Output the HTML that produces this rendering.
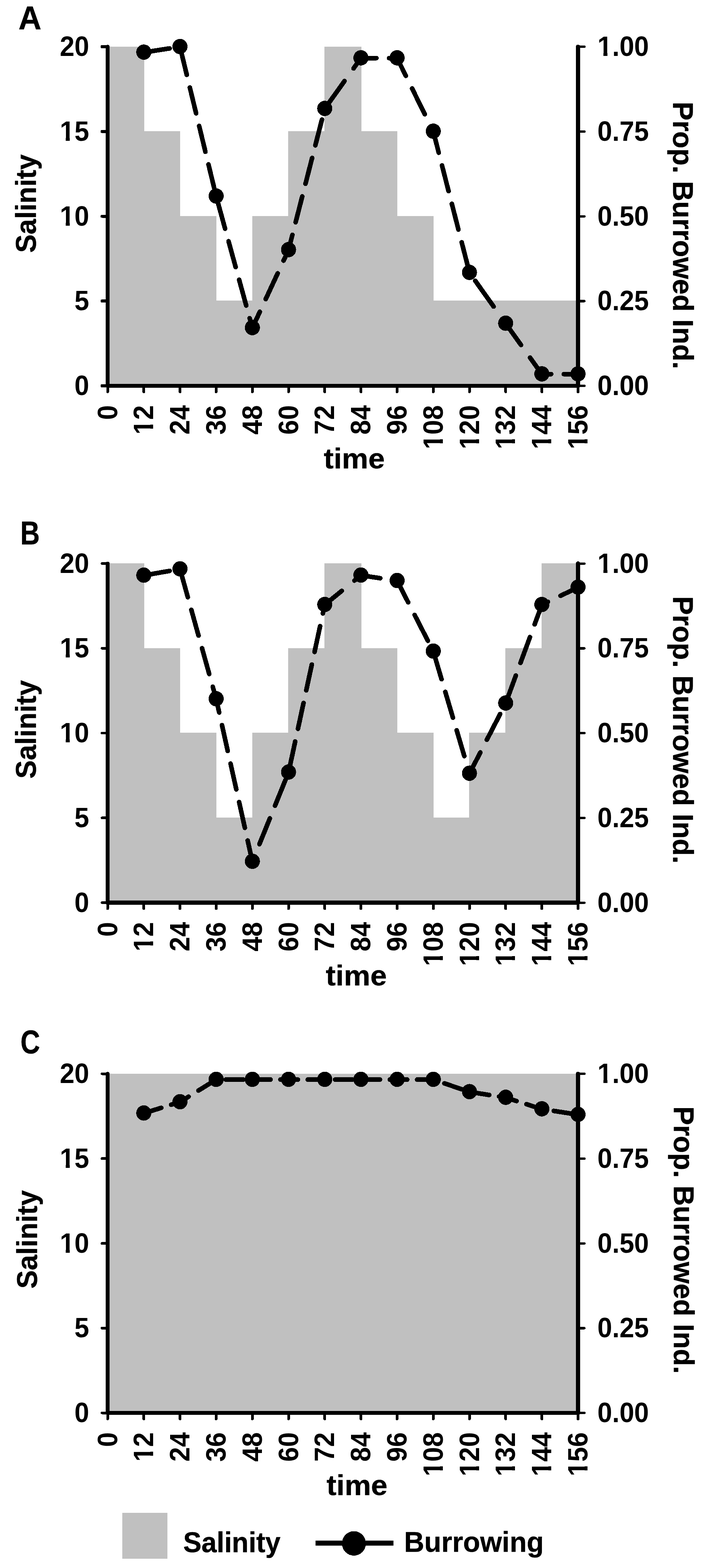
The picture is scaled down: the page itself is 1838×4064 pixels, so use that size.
<!DOCTYPE html>
<html lang="en"><head><meta charset="utf-8"><title>Salinity and burrowing</title>
<style>
html,body{margin:0;padding:0;background:#fff;}
body{width:1838px;height:4064px;overflow:hidden;}
svg{display:block;shape-rendering:crispEdges;}
text{font-family:"Liberation Sans",sans-serif;font-weight:bold;fill:#000;}
.tk{font-size:68.5px;}
.ti{stroke:#000;stroke-width:0.6px;stroke-linejoin:round;}
.ax{stroke:#000;stroke-linecap:round;fill:none;}
.ln{stroke:#000;stroke-width:12;stroke-linecap:round;stroke-linejoin:round;fill:none;}
</style></head><body>
<svg width="1838" height="4064" viewBox="0 0 1838 4064">
<defs><clipPath id="k1" clipPathUnits="userSpaceOnUse"><path clip-rule="evenodd" d="M-200 -70H200V20H-200ZM-78.19 -8.2H-60.69V2H-78.19ZM-50.29 -8.2H-38.59V2H-50.29Z"/></clipPath><clipPath id="k2" clipPathUnits="userSpaceOnUse"><path clip-rule="evenodd" d="M-200 -70H200V20H-200ZM-2 -8.2H15.5V2H-2ZM25.9 -8.2H37.6V2H25.9Z"/></clipPath><clipPath id="k3" clipPathUnits="userSpaceOnUse"><path clip-rule="evenodd" d="M-200 -70H200V20H-200ZM-116.29 -8.2H-98.79V2H-116.29ZM-88.39 -8.2H-76.69V2H-88.39Z"/></clipPath></defs>
<rect x="0" y="0" width="1838" height="4064" fill="#fff"/>
<g>
<path d="M279 1000L279 121L374 121L374 340L467 340L467 560L561 560L561 779L654 779L654 560L747 560L747 340L841 340L841 121L937 121L937 340L1030 340L1030 560L1124 560L1124 779L1216 779L1216 779L1310 779L1310 779L1404 779L1404 779L1498.5 779L1498.5 1000Z" fill="#c0c0c0"/>
<path class="ax" stroke-width="10" d="M279 121V1000"/>
<path class="ax" stroke-width="10" d="M279 1000H1498.5"/>
<path class="ax" stroke-width="11" d="M1498.5 121 V1000"/>
<path class="ax" stroke-width="8" d="M279 1000H264.5M279 780.25H264.5M279 560.5H264.5M279 340.75H264.5M279 121H264.5"/>
<path class="ax" stroke-width="6.2" d="M1498.5 1000.2H1514.9M1498.5 780.45H1514.9M1498.5 560.7H1514.9M1498.5 340.95H1514.9M1498.5 121.2H1514.9"/>
<path class="ax" stroke-width="7" d="M279 1000V1015.5M372.81 1000V1015.5M466.62 1000V1015.5M560.42 1000V1015.5M654.23 1000V1015.5M748.04 1000V1015.5M841.85 1000V1015.5M935.65 1000V1015.5M1029.46 1000V1015.5M1123.27 1000V1015.5M1217.08 1000V1015.5M1310.88 1000V1015.5M1404.69 1000V1015.5M1498.5 1000V1015.5"/>
<text class="tk" x="-38.1" y="0" transform="translate(231.1 1024) scale(1 1.045)">0</text>
<text class="tk" x="0" y="0" transform="translate(1548.8 1024) scale(1 1.045)">0.00</text>
<text class="tk" x="-38.1" y="0" transform="translate(231.1 804.25) scale(1 1.045)">5</text>
<text class="tk" x="0" y="0" transform="translate(1548.8 804.25) scale(1 1.045)">0.25</text>
<text class="tk" x="-76.19" y="0" clip-path="url(#k1)" transform="translate(231.1 584.5) scale(1 1.045)">10</text>
<text class="tk" x="0" y="0" transform="translate(1548.8 584.5) scale(1 1.045)">0.50</text>
<text class="tk" x="-76.19" y="0" clip-path="url(#k1)" transform="translate(231.1 364.75) scale(1 1.045)">15</text>
<text class="tk" x="0" y="0" transform="translate(1548.8 364.75) scale(1 1.045)">0.75</text>
<text class="tk" x="-76.19" y="0" transform="translate(231.1 145) scale(1 1.045)">20</text>
<text class="tk" x="0" y="0" clip-path="url(#k2)" transform="translate(1548.8 145) scale(1 1.045)">1.00</text>
<text class="tk" x="-38.1" y="0" transform="translate(303.5 1050.2) rotate(-90) scale(1 1.045)">0</text>
<text class="tk" x="-76.19" y="0" clip-path="url(#k1)" transform="translate(397.31 1050.2) rotate(-90) scale(1 1.045)">12</text>
<text class="tk" x="-76.19" y="0" transform="translate(491.12 1050.2) rotate(-90) scale(1 1.045)">24</text>
<text class="tk" x="-76.19" y="0" transform="translate(584.92 1050.2) rotate(-90) scale(1 1.045)">36</text>
<text class="tk" x="-76.19" y="0" transform="translate(678.73 1050.2) rotate(-90) scale(1 1.045)">48</text>
<text class="tk" x="-76.19" y="0" transform="translate(772.54 1050.2) rotate(-90) scale(1 1.045)">60</text>
<text class="tk" x="-76.19" y="0" transform="translate(866.35 1050.2) rotate(-90) scale(1 1.045)">72</text>
<text class="tk" x="-76.19" y="0" transform="translate(960.15 1050.2) rotate(-90) scale(1 1.045)">84</text>
<text class="tk" x="-76.19" y="0" transform="translate(1053.96 1050.2) rotate(-90) scale(1 1.045)">96</text>
<text class="tk" x="-114.29" y="0" clip-path="url(#k3)" transform="translate(1147.77 1050.2) rotate(-90) scale(1 1.045)">108</text>
<text class="tk" x="-114.29" y="0" clip-path="url(#k3)" transform="translate(1241.58 1050.2) rotate(-90) scale(1 1.045)">120</text>
<text class="tk" x="-114.29" y="0" clip-path="url(#k3)" transform="translate(1335.38 1050.2) rotate(-90) scale(1 1.045)">132</text>
<text class="tk" x="-114.29" y="0" clip-path="url(#k3)" transform="translate(1429.19 1050.2) rotate(-90) scale(1 1.045)">144</text>
<text class="tk" x="-114.29" y="0" clip-path="url(#k3)" transform="translate(1523 1050.2) rotate(-90) scale(1 1.045)">156</text>
<text class="ti" font-size="75" text-anchor="middle" transform="translate(93.2 527.7) rotate(-90) scale(0.957 1)">Salinity</text>
<text class="ti" font-size="75" text-anchor="middle" transform="translate(1745.3 610.25) rotate(90) scale(0.967 1)">Prop. Burrowed Ind.</text>
<text class="ti" font-size="74" text-anchor="middle" transform="translate(918.4 1214.3) scale(1.04 1)">time</text>
<text class="ti" font-size="85" transform="translate(47.8 76.4) scale(0.972 1)">A</text>
<path class="ln" d="M372.81 135.8L439.71 125.46M468.03 127.14L484.23 194.04M492.16 226.79L508.36 293.69M516.29 326.44L532.49 393.34M540.42 426.09L556.62 492.99M565.11 525.74L583.51 592.64M592.52 625.39L610.91 692.29M619.92 725.04L638.32 791.94M647.33 824.69L654.23 849.8L673.63 808.01M688.83 775.26L719.88 708.36M735.08 675.61L748.04 647.7L758.03 608.71M766.43 575.96L783.57 509.06M791.97 476.31L809.11 409.41M817.51 376.66L834.65 309.76M845.2 277.01L893.07 210.11M916.51 177.36L935.65 150.6L975.8 150.6M1008.55 150.6L1029.46 150.6L1052.15 196.58M1068.31 229.33L1101.33 296.23M1117.49 328.98L1123.27 340.7L1137.41 395.88M1145.81 428.63L1162.95 495.53M1171.35 528.28L1188.49 595.18M1196.89 627.93L1214.04 694.83M1231.95 727.58L1279.6 794.48M1302.93 827.23L1310.88 838.4L1350.7 894.13M1374.1 926.88L1404.69 969.7L1428.78 969.7M1461.53 969.7L1498.5 969.7"/>
<ellipse cx="372.81" cy="135.1" rx="19.55" ry="19.849999999999998" fill="#000"/>
<ellipse cx="466.62" cy="120.6" rx="19.55" ry="19.849999999999998" fill="#000"/>
<ellipse cx="560.42" cy="508" rx="19.55" ry="19.849999999999998" fill="#000"/>
<ellipse cx="654.23" cy="849.1" rx="19.55" ry="19.849999999999998" fill="#000"/>
<ellipse cx="748.04" cy="647" rx="19.55" ry="19.849999999999998" fill="#000"/>
<ellipse cx="841.85" cy="281" rx="19.55" ry="19.849999999999998" fill="#000"/>
<ellipse cx="935.65" cy="149.9" rx="19.55" ry="19.849999999999998" fill="#000"/>
<ellipse cx="1029.46" cy="149.9" rx="19.55" ry="19.849999999999998" fill="#000"/>
<ellipse cx="1123.27" cy="340" rx="19.55" ry="19.849999999999998" fill="#000"/>
<ellipse cx="1217.08" cy="706" rx="19.55" ry="19.849999999999998" fill="#000"/>
<ellipse cx="1310.88" cy="837.7" rx="19.55" ry="19.849999999999998" fill="#000"/>
<ellipse cx="1404.69" cy="969" rx="19.55" ry="19.849999999999998" fill="#000"/>
<ellipse cx="1498.5" cy="969" rx="19.55" ry="19.849999999999998" fill="#000"/>
</g>
<g>
<path d="M279 2339.5L279 1460L374 1460L374 1680L467 1680L467 1899L561 1899L561 2119L654 2119L654 1899L747 1899L747 1680L841 1680L841 1460L937 1460L937 1680L1030 1680L1030 1899L1124 1899L1124 2119L1216 2119L1216 1899L1310 1899L1310 1680L1404 1680L1404 1460L1498.5 1460L1498.5 2339.5Z" fill="#c0c0c0"/>
<path class="ax" stroke-width="10" d="M279 1460.5V2339.5"/>
<path class="ax" stroke-width="11" d="M279 2339.5H1498.5"/>
<path class="ax" stroke-width="11" d="M1498.5 1460.5 V2339.5"/>
<path class="ax" stroke-width="6.6" d="M279 2339.5H264.5M279 2119.75H264.5M279 1900H264.5M279 1680.25H264.5M279 1460.5H264.5"/>
<path class="ax" stroke-width="6.2" d="M1498.5 2339.7H1514.9M1498.5 2119.95H1514.9M1498.5 1900.2H1514.9M1498.5 1680.45H1514.9M1498.5 1460.7H1514.9"/>
<path class="ax" stroke-width="7" d="M279 2339.5V2355M372.81 2339.5V2355M466.62 2339.5V2355M560.42 2339.5V2355M654.23 2339.5V2355M748.04 2339.5V2355M841.85 2339.5V2355M935.65 2339.5V2355M1029.46 2339.5V2355M1123.27 2339.5V2355M1217.08 2339.5V2355M1310.88 2339.5V2355M1404.69 2339.5V2355M1498.5 2339.5V2355"/>
<text class="tk" x="-38.1" y="0" transform="translate(231.1 2363.5) scale(1 1.045)">0</text>
<text class="tk" x="0" y="0" transform="translate(1548.8 2363.5) scale(1 1.045)">0.00</text>
<text class="tk" x="-38.1" y="0" transform="translate(231.1 2143.75) scale(1 1.045)">5</text>
<text class="tk" x="0" y="0" transform="translate(1548.8 2143.75) scale(1 1.045)">0.25</text>
<text class="tk" x="-76.19" y="0" clip-path="url(#k1)" transform="translate(231.1 1924) scale(1 1.045)">10</text>
<text class="tk" x="0" y="0" transform="translate(1548.8 1924) scale(1 1.045)">0.50</text>
<text class="tk" x="-76.19" y="0" clip-path="url(#k1)" transform="translate(231.1 1704.25) scale(1 1.045)">15</text>
<text class="tk" x="0" y="0" transform="translate(1548.8 1704.25) scale(1 1.045)">0.75</text>
<text class="tk" x="-76.19" y="0" transform="translate(231.1 1484.5) scale(1 1.045)">20</text>
<text class="tk" x="0" y="0" clip-path="url(#k2)" transform="translate(1548.8 1484.5) scale(1 1.045)">1.00</text>
<text class="tk" x="-38.1" y="0" transform="translate(303.5 2389.7) rotate(-90) scale(1 1.045)">0</text>
<text class="tk" x="-76.19" y="0" clip-path="url(#k1)" transform="translate(397.31 2389.7) rotate(-90) scale(1 1.045)">12</text>
<text class="tk" x="-76.19" y="0" transform="translate(491.12 2389.7) rotate(-90) scale(1 1.045)">24</text>
<text class="tk" x="-76.19" y="0" transform="translate(584.92 2389.7) rotate(-90) scale(1 1.045)">36</text>
<text class="tk" x="-76.19" y="0" transform="translate(678.73 2389.7) rotate(-90) scale(1 1.045)">48</text>
<text class="tk" x="-76.19" y="0" transform="translate(772.54 2389.7) rotate(-90) scale(1 1.045)">60</text>
<text class="tk" x="-76.19" y="0" transform="translate(866.35 2389.7) rotate(-90) scale(1 1.045)">72</text>
<text class="tk" x="-76.19" y="0" transform="translate(960.15 2389.7) rotate(-90) scale(1 1.045)">84</text>
<text class="tk" x="-76.19" y="0" transform="translate(1053.96 2389.7) rotate(-90) scale(1 1.045)">96</text>
<text class="tk" x="-114.29" y="0" clip-path="url(#k3)" transform="translate(1147.77 2389.7) rotate(-90) scale(1 1.045)">108</text>
<text class="tk" x="-114.29" y="0" clip-path="url(#k3)" transform="translate(1241.58 2389.7) rotate(-90) scale(1 1.045)">120</text>
<text class="tk" x="-114.29" y="0" clip-path="url(#k3)" transform="translate(1335.38 2389.7) rotate(-90) scale(1 1.045)">132</text>
<text class="tk" x="-114.29" y="0" clip-path="url(#k3)" transform="translate(1429.19 2389.7) rotate(-90) scale(1 1.045)">144</text>
<text class="tk" x="-114.29" y="0" clip-path="url(#k3)" transform="translate(1523 2389.7) rotate(-90) scale(1 1.045)">156</text>
<text class="ti" font-size="75" text-anchor="middle" transform="translate(93.2 1890.55) rotate(-90) scale(0.957 1)">Salinity</text>
<text class="ti" font-size="75" text-anchor="middle" transform="translate(1745.3 1891.7) rotate(90) scale(0.967 1)">Prop. Burrowed Ind.</text>
<text class="ti" font-size="74" text-anchor="middle" transform="translate(923.6 2554.4) scale(1.04 1)">time</text>
<text class="ti" font-size="85" transform="translate(52.5 1410.8) scale(0.825 1)">B</text>
<path class="ln" d="M372.81 1491.4L439.71 1479.7M468.24 1480.84L486.88 1547.74M496.01 1580.49L514.65 1647.39M523.77 1680.14L542.41 1747.04M551.53 1779.79L560.42 1811.7L568.21 1846.69M575.51 1879.44L590.4 1946.34M597.7 1979.09L612.59 2045.99M619.88 2078.74L634.78 2145.64M642.07 2178.39L654.23 2233L659.22 2220.71M672.5 2187.96L699.63 2121.06M712.91 2088.31L740.05 2021.41M750.86 1988.66L765.31 1921.76M772.38 1889.01L786.83 1822.11M793.9 1789.36L808.35 1722.46M815.43 1689.71L829.88 1622.81M836.95 1590.06L841.85 1567.4L886.09 1531.41M918.84 1504.78L935.65 1491.1L985.74 1498.63M1018.49 1503.55L1029.46 1505.2L1058.13 1561.13M1074.92 1593.88L1109.21 1660.78M1124.85 1693.53L1144.67 1760.43M1154.37 1793.18L1174.2 1860.08M1183.9 1892.83L1203.72 1959.73M1213.43 1992.48L1217.08 2004.8L1245.21 1950.22M1262.09 1917.47L1296.57 1850.57M1312.71 1817.82L1337.28 1750.92M1349.31 1718.17L1373.89 1651.27M1385.91 1618.52L1404.69 1567.4L1420.47 1559.83M1453.22 1544.12L1498.5 1522.4"/>
<ellipse cx="372.81" cy="1490.7" rx="19.55" ry="19.849999999999998" fill="#000"/>
<ellipse cx="466.62" cy="1474.3" rx="19.55" ry="19.849999999999998" fill="#000"/>
<ellipse cx="560.42" cy="1811" rx="19.55" ry="19.849999999999998" fill="#000"/>
<ellipse cx="654.23" cy="2232.3" rx="19.55" ry="19.849999999999998" fill="#000"/>
<ellipse cx="748.04" cy="2001" rx="19.55" ry="19.849999999999998" fill="#000"/>
<ellipse cx="841.85" cy="1566.7" rx="19.55" ry="19.849999999999998" fill="#000"/>
<ellipse cx="935.65" cy="1490.4" rx="19.55" ry="19.849999999999998" fill="#000"/>
<ellipse cx="1029.46" cy="1504.5" rx="19.55" ry="19.849999999999998" fill="#000"/>
<ellipse cx="1123.27" cy="1687.5" rx="19.55" ry="19.849999999999998" fill="#000"/>
<ellipse cx="1217.08" cy="2004.1" rx="19.55" ry="19.849999999999998" fill="#000"/>
<ellipse cx="1310.88" cy="1822.1" rx="19.55" ry="19.849999999999998" fill="#000"/>
<ellipse cx="1404.69" cy="1566.7" rx="19.55" ry="19.849999999999998" fill="#000"/>
<ellipse cx="1498.5" cy="1521.7" rx="19.55" ry="19.849999999999998" fill="#000"/>
</g>
<g>
<path d="M279 3662L279 2783L374 2783L374 2783L467 2783L467 2783L561 2783L561 2783L654 2783L654 2783L747 2783L747 2783L841 2783L841 2783L937 2783L937 2783L1030 2783L1030 2783L1124 2783L1124 2783L1216 2783L1216 2783L1310 2783L1310 2783L1404 2783L1404 2783L1498.5 2783L1498.5 3662Z" fill="#c0c0c0"/>
<path class="ax" stroke-width="10" d="M279 2783V3662"/>
<path class="ax" stroke-width="10" d="M279 3662H1498.5"/>
<path class="ax" stroke-width="11" d="M1498.5 2783 V3662"/>
<path class="ax" stroke-width="7" d="M279 3662H264.5M279 3442.25H264.5M279 3222.5H264.5M279 3002.75H264.5M279 2783H264.5"/>
<path class="ax" stroke-width="6.2" d="M1498.5 3662.2H1514.9M1498.5 3442.45H1514.9M1498.5 3222.7H1514.9M1498.5 3002.95H1514.9M1498.5 2783.2H1514.9"/>
<path class="ax" stroke-width="7" d="M279 3662V3677.5M372.81 3662V3677.5M466.62 3662V3677.5M560.42 3662V3677.5M654.23 3662V3677.5M748.04 3662V3677.5M841.85 3662V3677.5M935.65 3662V3677.5M1029.46 3662V3677.5M1123.27 3662V3677.5M1217.08 3662V3677.5M1310.88 3662V3677.5M1404.69 3662V3677.5M1498.5 3662V3677.5"/>
<text class="tk" x="-38.1" y="0" transform="translate(231.1 3686) scale(1 1.045)">0</text>
<text class="tk" x="0" y="0" transform="translate(1548.8 3686) scale(1 1.045)">0.00</text>
<text class="tk" x="-38.1" y="0" transform="translate(231.1 3466.25) scale(1 1.045)">5</text>
<text class="tk" x="0" y="0" transform="translate(1548.8 3466.25) scale(1 1.045)">0.25</text>
<text class="tk" x="-76.19" y="0" clip-path="url(#k1)" transform="translate(231.1 3246.5) scale(1 1.045)">10</text>
<text class="tk" x="0" y="0" transform="translate(1548.8 3246.5) scale(1 1.045)">0.50</text>
<text class="tk" x="-76.19" y="0" clip-path="url(#k1)" transform="translate(231.1 3026.75) scale(1 1.045)">15</text>
<text class="tk" x="0" y="0" transform="translate(1548.8 3026.75) scale(1 1.045)">0.75</text>
<text class="tk" x="-76.19" y="0" transform="translate(231.1 2807) scale(1 1.045)">20</text>
<text class="tk" x="0" y="0" clip-path="url(#k2)" transform="translate(1548.8 2807) scale(1 1.045)">1.00</text>
<text class="tk" x="-38.1" y="0" transform="translate(303.5 3712.2) rotate(-90) scale(1 1.045)">0</text>
<text class="tk" x="-76.19" y="0" clip-path="url(#k1)" transform="translate(397.31 3712.2) rotate(-90) scale(1 1.045)">12</text>
<text class="tk" x="-76.19" y="0" transform="translate(491.12 3712.2) rotate(-90) scale(1 1.045)">24</text>
<text class="tk" x="-76.19" y="0" transform="translate(584.92 3712.2) rotate(-90) scale(1 1.045)">36</text>
<text class="tk" x="-76.19" y="0" transform="translate(678.73 3712.2) rotate(-90) scale(1 1.045)">48</text>
<text class="tk" x="-76.19" y="0" transform="translate(772.54 3712.2) rotate(-90) scale(1 1.045)">60</text>
<text class="tk" x="-76.19" y="0" transform="translate(866.35 3712.2) rotate(-90) scale(1 1.045)">72</text>
<text class="tk" x="-76.19" y="0" transform="translate(960.15 3712.2) rotate(-90) scale(1 1.045)">84</text>
<text class="tk" x="-76.19" y="0" transform="translate(1053.96 3712.2) rotate(-90) scale(1 1.045)">96</text>
<text class="tk" x="-114.29" y="0" clip-path="url(#k3)" transform="translate(1147.77 3712.2) rotate(-90) scale(1 1.045)">108</text>
<text class="tk" x="-114.29" y="0" clip-path="url(#k3)" transform="translate(1241.58 3712.2) rotate(-90) scale(1 1.045)">120</text>
<text class="tk" x="-114.29" y="0" clip-path="url(#k3)" transform="translate(1335.38 3712.2) rotate(-90) scale(1 1.045)">132</text>
<text class="tk" x="-114.29" y="0" clip-path="url(#k3)" transform="translate(1429.19 3712.2) rotate(-90) scale(1 1.045)">144</text>
<text class="tk" x="-114.29" y="0" clip-path="url(#k3)" transform="translate(1523 3712.2) rotate(-90) scale(1 1.045)">156</text>
<text class="ti" font-size="75" text-anchor="middle" transform="translate(95.8 3212.5) rotate(-90) scale(0.957 1)">Salinity</text>
<text class="ti" font-size="75" text-anchor="middle" transform="translate(1747 3214) rotate(90) scale(0.967 1)">Prop. Burrowed Ind.</text>
<text class="ti" font-size="74" text-anchor="middle" transform="translate(925.5 3875.4) scale(1.04 1)">time</text>
<text class="ti" font-size="85" transform="translate(53.1 2729.7) scale(0.828 1)">C</text>
<path class="ln" d="M372.81 2885.4L418.01 2871.33M443.66 2863.35L466.62 2856.2L488.86 2842.42M514.51 2826.54L559.71 2798.54M585.36 2798.1L630.56 2798.1M656.21 2798.1L701.41 2798.1M727.06 2798.1L748.04 2798.1L772.26 2798.1M797.91 2798.1L841.85 2798.1L843.11 2798.1M868.76 2798.1L913.96 2798.1M939.61 2798.1L984.81 2798.1M1010.46 2798.1L1029.46 2798.1L1055.66 2798.1M1081.31 2798.1L1123.27 2798.1L1126.51 2799.2M1152.16 2807.92L1197.36 2823.29M1223.01 2830.93L1268.21 2838.01M1293.86 2842.03L1310.88 2844.7L1339.06 2853.68M1364.71 2861.86L1404.69 2874.6L1409.91 2875.4M1435.56 2879.34L1480.76 2886.28"/>
<ellipse cx="372.81" cy="2884.7" rx="19.55" ry="19.849999999999998" fill="#000"/>
<ellipse cx="466.62" cy="2855.5" rx="19.55" ry="19.849999999999998" fill="#000"/>
<ellipse cx="560.42" cy="2797.4" rx="19.55" ry="19.849999999999998" fill="#000"/>
<ellipse cx="654.23" cy="2797.4" rx="19.55" ry="19.849999999999998" fill="#000"/>
<ellipse cx="748.04" cy="2797.4" rx="19.55" ry="19.849999999999998" fill="#000"/>
<ellipse cx="841.85" cy="2797.4" rx="19.55" ry="19.849999999999998" fill="#000"/>
<ellipse cx="935.65" cy="2797.4" rx="19.55" ry="19.849999999999998" fill="#000"/>
<ellipse cx="1029.46" cy="2797.4" rx="19.55" ry="19.849999999999998" fill="#000"/>
<ellipse cx="1123.27" cy="2797.4" rx="19.55" ry="19.849999999999998" fill="#000"/>
<ellipse cx="1217.08" cy="2829.3" rx="19.55" ry="19.849999999999998" fill="#000"/>
<ellipse cx="1310.88" cy="2844" rx="19.55" ry="19.849999999999998" fill="#000"/>
<ellipse cx="1404.69" cy="2873.9" rx="19.55" ry="19.849999999999998" fill="#000"/>
<ellipse cx="1498.5" cy="2888.3" rx="19.55" ry="19.849999999999998" fill="#000"/>
</g>
<g>
<rect x="317" y="3921" width="117" height="119" fill="#c0c0c0"/>
<text class="ti" font-size="75" transform="translate(475 4023) scale(0.9456 1)">Salinity</text>
<path d="M818 3999.5H1020" stroke="#000" stroke-width="13" fill="none"/>
<ellipse cx="917.5" cy="4000.3" rx="31" ry="31.7" fill="#000"/>
<text class="ti" font-size="75" transform="translate(1047.5 4021.6) scale(0.966 1)">Burrowing</text>
</g>
</svg>
</body></html>
